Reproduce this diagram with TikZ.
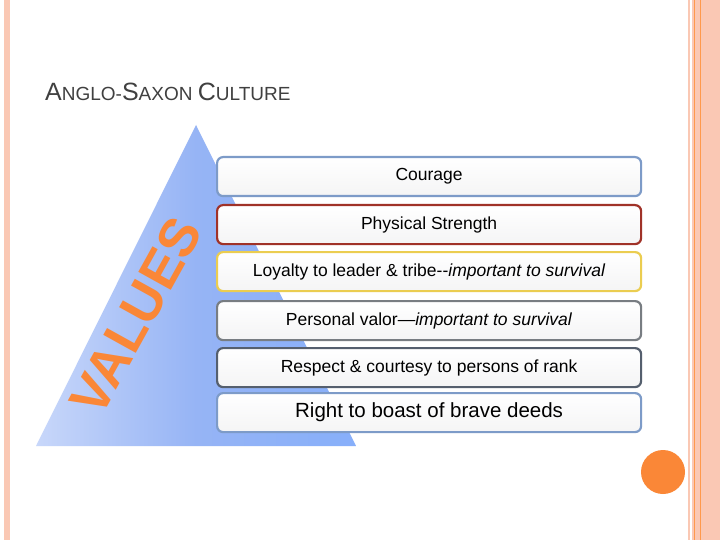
\documentclass[tikz,border=0pt]{standalone}
\usepackage{fontspec}
\setmainfont{Liberation Sans}
\begin{document}
\begin{tikzpicture}[x=1pt,y=-1pt,
  bx/.style={draw=#1,line width=2.2pt,rounded corners=6pt,top color=white,bottom color=blue!4!gray!8,minimum width=424pt,minimum height=39pt,anchor=north west,inner sep=0pt,font=\fontsize{17.5}{20}\selectfont}]
\useasboundingbox (0,0) rectangle (720,540);
\fill[white] (0,0) rectangle (720,540);
\definecolor{pk}{RGB}{250,200,180}
\definecolor{og}{RGB}{250,135,55}
\definecolor{tl}{RGB}{200,215,250}
\definecolor{tm}{RGB}{150,180,245}
\definecolor{tr}{RGB}{135,175,250}
% borders
\fill[pk] (4,0) rectangle (10,540);
\fill[pk] (688,0) rectangle (720,540);
\draw[orange!60!pink,line width=0.8pt] (694,0) -- (694,540) (700,0)--(700,540);
\fill[white] (690,0) rectangle (692,540);
% title
\node[anchor=base west,inner sep=0pt,text=black!75] (title) at (45,101)
 {\fontsize{25}{28}\selectfont A\fontsize{19}{22}\selectfont NGLO-\fontsize{25}{28}\selectfont S\fontsize{19}{22}\selectfont AXON \fontsize{25}{28}\selectfont C\fontsize{19}{22}\selectfont ULTURE};
% triangle
\shade[left color=tl,right color=tr,middle color=tm] (196,125) -- (356,446) -- (36,446) -- cycle;
\node[rotate=61,text=og,font=\bfseries\fontsize{54}{56}\selectfont,inner sep=0pt] (v) at (136,316) {VALUES};
% boxes
\definecolor{c1}{RGB}{125,155,200}
\definecolor{c2}{RGB}{160,50,40}
\definecolor{c3}{RGB}{235,205,80}
\definecolor{c4}{RGB}{120,125,130}
\definecolor{c5}{RGB}{85,95,110}
\node[bx=c1] (b1) at (216,156) {Courage};
\node[bx=c2] (b2) at (216,204) {Physical Strength};
\node[bx=c3] (b3) at (216,251) {Loyalty to leader \& tribe-{}-\textit{important to survival}};
\node[bx=c4] (b4) at (216,300) {Personal valor---\textit{important to survival}};
\node[bx=c5] (b5) at (216,347) {Respect \& courtesy to persons of rank};
\node[bx=c1,font=\fontsize{20.5}{24}\selectfont] (b6) at (216,392) {Right to boast of brave deeds};
\fill[og] (663,472) circle (22);
\end{tikzpicture}
\end{document}
